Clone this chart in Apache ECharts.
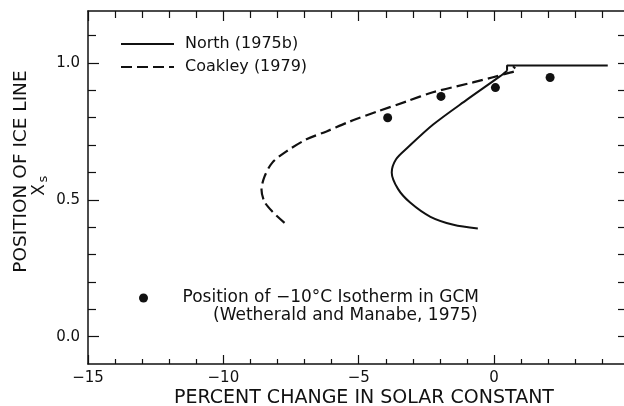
<!DOCTYPE html>
<html>
<head>
<meta charset="utf-8">
<script src="https://cdn.jsdelivr.net/npm/echarts@6/dist/echarts.min.js"></script>
<style>html,body{margin:0;padding:0;background:#fff;}#c{width:624px;height:406px;}</style>
</head>
<body>
<div id="c"></div>
<script>
// ---- data ----
const xMajorTicks = [-15, -10, -5, 0];
const xMinorTicks = [-14, -13, -12, -11, -9, -8, -7, -6, -4, -3, -2, -1, 1, 2, 3, 4];
const yMajorTicks = [0, 0.5, 1.0];
const yMinorTicks = [0.1, 0.2, 0.3, 0.4, 0.6, 0.7, 0.8, 0.9, 1.1];
const yRightTicks = [0, 0.1, 0.2, 0.3, 0.4, 0.5, 0.6, 0.7, 0.8, 0.9, 1.0, 1.1];

const northCurve = [
  [-0.6, 0.395], [-1.5, 0.409], [-2.35, 0.438], [-3.1, 0.49], [-3.55, 0.54],
  [-3.78, 0.60], [-3.62, 0.648], [-3.2, 0.69], [-2.25, 0.775], [-1.0, 0.866],
  [0.2, 0.95], [0.48, 0.972]
];
const northPlateau = [[0.48, 0.972], [0.48, 0.991], [4.2, 0.991]];

const coakleyCurve = [
  [-7.74, 0.416], [-8.19, 0.457], [-8.48, 0.493], [-8.59, 0.537], [-8.48, 0.585],
  [-8.19, 0.636], [-7.67, 0.677], [-6.93, 0.721], [-6.19, 0.750], [-5.33, 0.786],
  [-4.3, 0.823], [-3.22, 0.86], [-2.26, 0.893], [-0.78, 0.929], [-0.04, 0.948],
  [0.48, 0.962], [0.82, 0.974], [0.7, 0.988]
];
const gcmPoints = [[-3.93, 0.80], [-1.96, 0.878], [0.05, 0.91], [2.07, 0.947]];

const nameNorth = 'North (1975b)';
const nameCoakley = 'Coakley (1979)';
const nameGcm = 'Position of \u221210\u00b0C Isotherm in GCM';
const nameGcm2 = '(Wetherald and Manabe, 1975)';
const xTitle = 'PERCENT CHANGE IN SOLAR CONSTANT';
const yTitle = 'POSITION OF ICE LINE';

// ---- chart ----
const FONT = 'DejaVu Sans';
const INK = '#111';
const X_MIN = -15, X_MAX = 4.8, Y_MIN = -0.1, Y_MAX = 1.19;

function fmtX(v) { return v < 0 ? '\u2212' + (-v) : String(v); }

function xAx(pos, values, len, showLine, showLabel) {
  return {
    type: 'value', min: X_MIN, max: X_MAX, position: pos,
    axisLine: { show: showLine, onZero: false, lineStyle: { color: INK, width: 1.5 } },
    axisTick: { show: true, inside: true, length: len, customValues: values, lineStyle: { color: INK, width: 1.2 } },
    axisLabel: showLabel ? { show: true, customValues: values, formatter: fmtX, fontFamily: FONT, fontSize: 15, color: INK, margin: 7 } : { show: false },
    splitLine: { show: false }
  };
}
function yAx(pos, values, len, showLine, showLabel) {
  return {
    type: 'value', min: Y_MIN, max: Y_MAX, position: pos,
    axisLine: { show: showLine, onZero: false, lineStyle: { color: INK, width: 1.5 } },
    axisTick: { show: true, inside: true, length: len, customValues: values, lineStyle: { color: INK, width: 1.2 } },
    axisLabel: showLabel ? { show: true, customValues: values, formatter: v => v.toFixed(1), fontFamily: FONT, fontSize: 15, color: INK, margin: 8 } : { show: false },
    splitLine: { show: false }
  };
}

const chart = echarts.init(document.getElementById('c'), null, { renderer: 'canvas' });
chart.setOption({
  backgroundColor: '#fff',
  animation: false,
  grid: { left: 88, right: 0, top: 11, bottom: 42, containLabel: false },
  xAxis: [
    xAx('bottom', xMajorTicks, 9, true, true),
    xAx('bottom', xMinorTicks, 5, false, false),
    xAx('top', xMajorTicks, 10, true, false),
    xAx('top', xMinorTicks, 7, false, false)
  ],
  yAxis: [
    yAx('left', yMajorTicks, 11, true, true),
    yAx('left', yMinorTicks, 8, false, false),
    yAx('right', yRightTicks, 6, false, false)
  ],
  legend: [
    {
      data: [nameNorth, nameCoakley], orient: 'vertical', left: 115, top: 31,
      itemWidth: 53, itemHeight: 14, itemGap: 7, selectedMode: false,
      itemStyle: { color: 'rgba(0,0,0,0)', borderWidth: 0, opacity: 0 },
      textStyle: { fontFamily: FONT, fontSize: 16, color: INK, padding: [0, 0, 0, 6] }
    },
    {
      data: [nameGcm], left: 134, top: 284.5,
      itemWidth: 68, itemHeight: 9, selectedMode: false,
      itemStyle: { color: INK, opacity: 1 },
      textStyle: { fontFamily: FONT, fontSize: 17, color: INK }
    }
  ],
  graphic: [
    { type: 'text', x: 213, y: 316, style: { text: nameGcm2, font: '17px "DejaVu Sans"', fill: INK, align: 'left', verticalAlign: 'middle' } },
    { type: 'text', x: 364, y: 398, style: { text: xTitle, font: '19px "DejaVu Sans"', fill: INK, align: 'center', verticalAlign: 'middle' } },
    { type: 'text', x: 21, y: 171.5, rotation: Math.PI / 2, style: { text: yTitle, font: '18.5px "DejaVu Sans"', fill: INK, align: 'center', verticalAlign: 'middle' } },
    { type: 'text', x: 40, y: 190, rotation: Math.PI / 2, style: { text: 'X', font: '17px "DejaVu Sans"', fill: INK, align: 'center', verticalAlign: 'middle' } },
    { type: 'text', x: 44, y: 179, rotation: Math.PI / 2, style: { text: 's', font: '13px "DejaVu Sans"', fill: INK, align: 'center', verticalAlign: 'middle' } }
  ],
  series: [
    { name: nameNorth, type: 'line', xAxisIndex: 0, yAxisIndex: 0, data: northCurve, smooth: 0.3, symbol: 'none', lineStyle: { color: INK, width: 2 }, itemStyle: { color: INK } },
    { name: nameNorth, type: 'line', xAxisIndex: 0, yAxisIndex: 0, data: northPlateau, smooth: false, symbol: 'none', lineStyle: { color: INK, width: 2 }, itemStyle: { color: INK } },
    { name: nameCoakley, type: 'line', xAxisIndex: 0, yAxisIndex: 0, data: coakleyCurve, smooth: 0.3, symbol: 'none', lineStyle: { color: INK, width: 2.2, type: [11, 5] }, itemStyle: { color: INK } },
    { name: nameGcm, type: 'scatter', xAxisIndex: 0, yAxisIndex: 0, data: gcmPoints, symbol: 'circle', symbolSize: 9, itemStyle: { color: INK, opacity: 1 }, z: 5 }
  ]
});
</script>
</body>
</html>
